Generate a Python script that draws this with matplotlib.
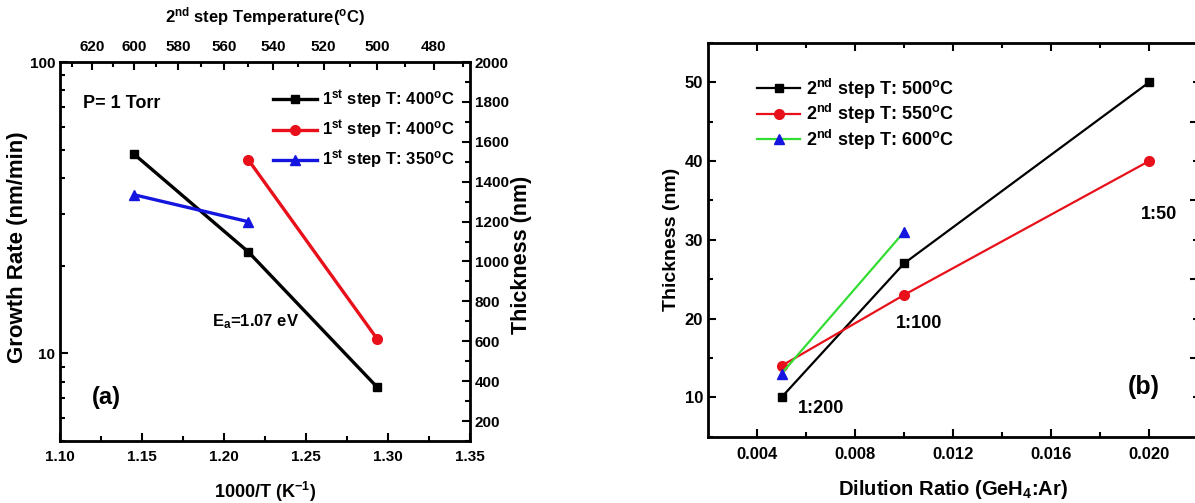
import numpy as np
import matplotlib
matplotlib.use("Agg")
import matplotlib.pyplot as plt
from matplotlib.ticker import MultipleLocator, FixedLocator, NullFormatter, LogLocator, FormatStrFormatter

plt.rcParams['font.family'] = ['Liberation Sans', 'DejaVu Sans']
plt.rcParams['font.weight'] = 'bold'
plt.rcParams['mathtext.fontset'] = 'custom'
plt.rcParams['mathtext.rm'] = 'Liberation Sans:bold'
plt.rcParams['mathtext.it'] = 'Liberation Sans:bold'
plt.rcParams['mathtext.bf'] = 'Liberation Sans:bold'
plt.rcParams['mathtext.default'] = 'rm'

# ---- panel (a) data ----
a_labels = ['1$^{st}$ step T: 400$^{o}$C', '1$^{st}$ step T: 400$^{o}$C', '1$^{st}$ step T: 350$^{o}$C']
a_black_x = [1.1453, 1.2148, 1.2934]
a_black_y = [48.2, 22.3, 7.65]
a_red_x = [1.2148, 1.2934]
a_red_y = [46.2, 11.2]
a_blue_x = [1.1453, 1.2148]
a_blue_y = [35.0, 28.3]
a_top_ticks = [620, 600, 580, 560, 540, 520, 500, 480]

# ---- panel (b) data ----
b_labels = ['2$^{nd}$ step T: 500$^{o}$C', '2$^{nd}$ step T: 550$^{o}$C', '2$^{nd}$ step T: 600$^{o}$C']
b_black_x = [0.005, 0.010, 0.020]
b_black_y = [10, 27, 50]
b_red_x = [0.005, 0.010, 0.020]
b_red_y = [14, 23, 40]
b_green_x = [0.005, 0.010]
b_green_y = [13, 31]
b_ratio_text = ['1:200', '1:100', '1:50']
b_ratio_x = [0.0066, 0.0106, 0.0204]
b_ratio_y = [8.6, 19.4, 33.2]

RED = '#e8101a'
BLUE = '#1515e0'
GREEN = '#33dd33'

fig = plt.figure(figsize=(11.95, 5.03), dpi=100)

# ================= panel (a) =================
ax = fig.add_axes([60/1195, 1-441/503, 410/1195, 379/503])
ax.set_yscale('log')
ax.plot(a_black_x, a_black_y, '-s', color='black', lw=2.4, ms=6, label=a_labels[0])
ax.plot(a_red_x, a_red_y, '-o', color=RED, lw=2.4, ms=7, label=a_labels[1])
ax.plot(a_blue_x, a_blue_y, '-^', color=BLUE, lw=2.4, ms=7, label=a_labels[2])
ax.set_xlim(1.10, 1.35)
ax.set_ylim(5, 100)
ax.xaxis.set_major_locator(MultipleLocator(0.05))
ax.xaxis.set_minor_locator(MultipleLocator(0.025))
ax.xaxis.set_major_formatter(FormatStrFormatter('%.2f'))
ax.yaxis.set_major_locator(FixedLocator([10, 100]))
ax.yaxis.set_major_formatter(FormatStrFormatter('%d'))
ax.yaxis.set_minor_locator(LogLocator(base=10, subs=np.arange(2, 10)))
ax.yaxis.set_minor_formatter(NullFormatter())
ax.tick_params(which='both', direction='in', labelsize=11, width=1.5)
ax.tick_params(which='major', length=6)
ax.tick_params(which='minor', length=3.5)
ax.tick_params(axis='x', which='both', pad=6.5)
ax.tick_params(axis='y', which='both', right=False)
for s in ax.spines.values():
    s.set_linewidth(2)
ax.set_xlabel('1000/T (K$^{-1}$)', fontsize=13, fontweight='bold')
ax.xaxis.set_label_coords(0.5, -0.102)
ax.set_ylabel('Growth Rate (nm/min)', fontsize=16, fontweight='bold')
ax.yaxis.set_label_coords(-0.078, 0.512)

def c2x(t):
    t = np.asarray(t, dtype=float)
    return 1000.0 / (t + 273.15)

def x2c(x):
    x = np.asarray(x, dtype=float)
    x = np.where(np.abs(x) < 1e-9, 1e-9, x)
    return 1000.0 / x - 273.15

top = ax.secondary_xaxis('top', functions=(x2c, c2x))
top.xaxis.set_major_locator(FixedLocator(a_top_ticks))
top.xaxis.set_minor_locator(MultipleLocator(10))
top.tick_params(which='both', direction='in', labelsize=11, width=1.5, pad=5.5)
top.tick_params(which='major', length=6)
top.tick_params(which='minor', length=3.5)
top.set_xlabel('2$^{nd}$ step Temperature($^{o}$C)', fontsize=12, fontweight='bold', labelpad=13)

ax2 = ax.twinx()
ax2.set_ylim(100, 2000)
ax2.yaxis.set_major_locator(MultipleLocator(200))
ax2.yaxis.set_minor_locator(MultipleLocator(100))
ax2.tick_params(which='both', direction='in', labelsize=11, width=1.5)
ax2.tick_params(which='major', length=6)
ax2.tick_params(which='minor', length=3.5)
ax2.set_ylabel('Thickness (nm)', fontsize=15.5, fontweight='bold')
ax2.yaxis.set_label_coords(1.10, 0.49)

ax.legend(loc='upper left', bbox_to_anchor=(0.52, 0.93), frameon=False, fontsize=12,
          handlelength=2.6, handletextpad=0.3, labelspacing=0.45, borderpad=0, borderaxespad=0)
ax.text(1.114, 72.3, 'P= 1 Torr', fontsize=13, fontweight='bold', ha='left', va='center')
ax.text(1.1927, 12.4, 'E$_{a}$=1.07 eV', fontsize=12, fontweight='bold', ha='left', va='baseline')
ax.text(1.1195, 7.05, '(a)', fontsize=17, fontweight='bold', ha='left', va='center')

# ================= panel (b) =================
bx = fig.add_axes([708/1195, 1-436.7/503, 490/1195, 393.7/503])
bx.plot(b_black_x, b_black_y, '-s', color='black', lw=1.6, ms=6, label=b_labels[0])
bx.plot(b_red_x, b_red_y, '-o', color=RED, lw=1.6, ms=7, label=b_labels[1])
bx.plot(b_green_x, b_green_y, '-^', color=GREEN, mfc=BLUE, mec=BLUE, lw=1.6, ms=7, label=b_labels[2])
bx.set_xlim(0.002, 0.022)
bx.set_ylim(5, 55)
bx.xaxis.set_major_locator(FixedLocator([0.004, 0.008, 0.012, 0.016, 0.020]))
bx.xaxis.set_minor_locator(FixedLocator([0.006, 0.010, 0.014, 0.018]))
bx.xaxis.set_major_formatter(FormatStrFormatter('%.3f'))
bx.yaxis.set_major_locator(MultipleLocator(10))
bx.yaxis.set_minor_locator(MultipleLocator(5))
bx.tick_params(which='both', direction='in', labelsize=12, width=1.5, top=True)
bx.tick_params(axis='x', which='both', pad=7.5)
bx.tick_params(axis='y', which='both', right=False)
bx.tick_params(which='major', length=6)
bx.tick_params(which='minor', length=3.5)
for s in bx.spines.values():
    s.set_linewidth(2)
bx.set_xlabel('Dilution Ratio (GeH$_{4}$:Ar)', fontsize=14.5, fontweight='bold')
bx.xaxis.set_label_coords(0.5, -0.105)
bx.set_ylabel('Thickness (nm)', fontsize=14, fontweight='bold')
bx.yaxis.set_label_coords(-0.058, 0.5)

bx2 = bx.twinx()
bx2.set_ylim(5, 55)
bx2.yaxis.set_major_locator(FixedLocator([15, 25, 35, 45]))
bx2.yaxis.set_minor_locator(FixedLocator([10, 20, 30, 40, 50]))
bx2.tick_params(which='both', direction='in', labelright=False, width=1.5)
bx2.tick_params(which='major', length=6)
bx2.tick_params(which='minor', length=3.5)

bx.legend(loc='upper left', bbox_to_anchor=(0.1, 0.915), frameon=False, fontsize=13,
          handlelength=2.4, handletextpad=0.3, labelspacing=0.08, borderpad=0, borderaxespad=0)
for t, x, y in zip(b_ratio_text, b_ratio_x, b_ratio_y):
    bx.text(x, y, t, fontsize=13, fontweight='bold', ha='center', va='center')
bx.text(0.0198, 11.3, '(b)', fontsize=18, fontweight='bold', ha='center', va='center')

fig.savefig('out.png', dpi=100)
